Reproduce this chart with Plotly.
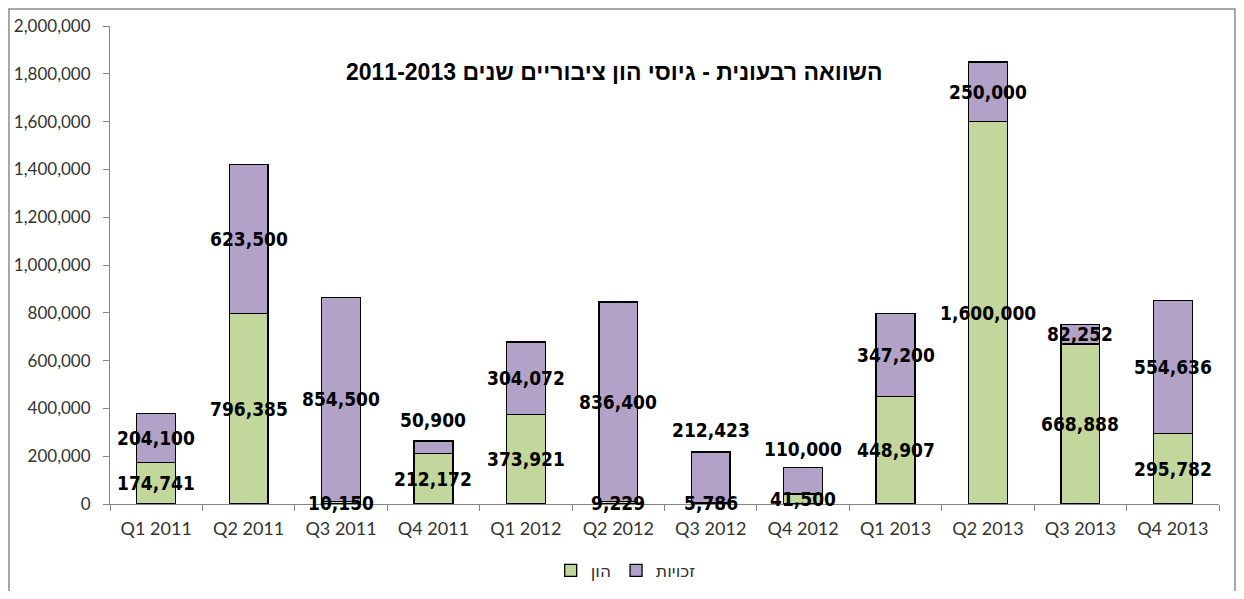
import plotly.graph_objects as go

categories = ["Q1 2011", "Q2 2011", "Q3 2011", "Q4 2011",
              "Q1 2012", "Q2 2012", "Q3 2012", "Q4 2012",
              "Q1 2013", "Q2 2013", "Q3 2013", "Q4 2013"]
hon = [174741, 796385, 10150, 212172, 373921, 9229, 5786, 41500,
       448907, 1600000, 668888, 295782]
zchuyot = [204100, 623500, 854500, 50900, 304072, 836400, 212423, 110000,
           347200, 250000, 82252, 554636]
series_names = ["הון", "זכויות"]
title_text = "השוואה רבעונית - גיוסי הון ציבוריים שנים 2011-2013"
y_ticks = list(range(0, 2000001, 200000))

# manual label nudges (pixels, up) as placed in the original chart
label_nudge_px = {("Q4 2011", 1): 27, ("Q3 2012", 1): 47, ("Q4 2012", 1): 32}

GREEN = "#C3D69B"
PURPLE = "#B3A2C7"

fig = go.Figure()
fig.add_trace(go.Bar(x=categories, y=hon, name=series_names[0],
                     marker=dict(color=GREEN, line=dict(color="#000000", width=1.3))))
fig.add_trace(go.Bar(x=categories, y=zchuyot, name=series_names[1],
                     marker=dict(color=PURPLE, line=dict(color="#000000", width=1.3))))

label_font = dict(family="DejaVu Sans Condensed, DejaVu Sans", size=19,
                  color="#000000", weight="bold")
annotations = []
for c, g, p in zip(categories, hon, zchuyot):
    annotations.append(dict(x=c, y=g / 2, xref="x", yref="y", text=f"{g:,}",
                            showarrow=False, font=label_font,
                            xanchor="center", yanchor="middle",
                            yshift=label_nudge_px.get((c, 0), 0)))
    annotations.append(dict(x=c, y=g + p / 2, xref="x", yref="y", text=f"{p:,}",
                            showarrow=False, font=label_font,
                            xanchor="center", yanchor="middle",
                            yshift=label_nudge_px.get((c, 1), 0)))
annotations.append(dict(x=0.4545, y=0.904, xref="paper", yref="paper",
                        text=title_text, showarrow=False,
                        font=dict(family="Liberation Sans, Arial", size=23,
                                  color="#000000", weight="bold"),
                        xanchor="center", yanchor="middle"))

fig.update_layout(
    width=1228, height=583,
    margin=dict(l=102, r=17, t=18, b=87, autoexpand=False),
    barmode="stack", bargap=0.58,
    plot_bgcolor="#FFFFFF", paper_bgcolor="#FFFFFF",
    showlegend=True,
    legend=dict(orientation="h", x=0.465, y=-0.14, xanchor="center",
                yanchor="middle", traceorder="normal",
                font=dict(family="DejaVu Sans", size=17, color="#333333"),
                itemwidth=30),
    annotations=annotations,
    shapes=[dict(type="rect", xref="paper", yref="paper",
                 x0=-0.0911, x1=1.0144, y0=-0.35, y1=1.0356,
                 line=dict(color="#8C8C8C", width=1.5), layer="below")],
)
fig.update_xaxes(showline=True, linecolor="#868686", linewidth=1,
                 ticks="outside", tickson="boundaries", ticklen=6,
                 tickcolor="#868686", showgrid=False, automargin=False,
                 tickfont=dict(family="Lato", size=18, color="#333333"),
                 ticklabelstandoff=8)
fig.update_yaxes(range=[0, 2000000], tickvals=y_ticks, tickformat=",",
                 showline=True, linecolor="#868686", linewidth=1,
                 ticks="outside", ticklen=6, tickcolor="#868686",
                 showgrid=False, zeroline=False, automargin=False,
                 tickfont=dict(family="Lato", size=17, color="#333333"),
                 ticklabelstandoff=9)

fig.write_html("out.html")
